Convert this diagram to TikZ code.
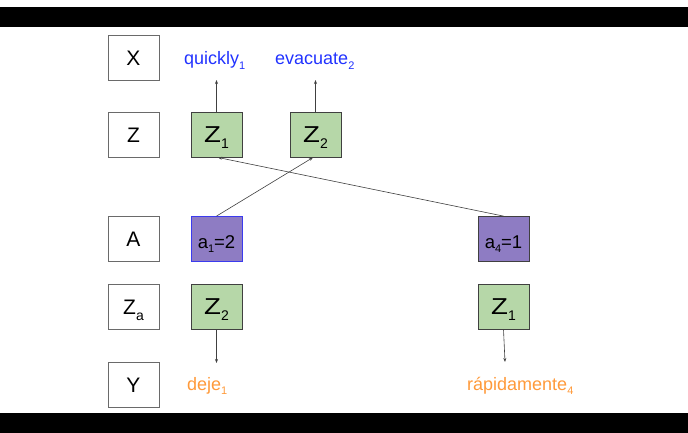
\documentclass[tikz,border=0pt]{standalone}
\usepackage{fontspec}
\setmainfont{Liberation Sans}
\usetikzlibrary{arrows.meta}

\definecolor{boxgreen}{HTML}{B6D7A8}
\definecolor{boxpurple}{HTML}{8E7CC3}
\definecolor{wordblue}{HTML}{2233FF}
\definecolor{wordorange}{HTML}{FF9A3A}
\definecolor{edgegray}{HTML}{404040}
\definecolor{framegray}{HTML}{6A6A6A}
\definecolor{selblue}{HTML}{3B3BEE}

% lowered index in running labels
\newcommand{\lowidx}[1]{\raisebox{-4.5pt}{\fontsize{11}{12}\selectfont #1}}
% lowered index inside the boxes
\newcommand{\boxidx}[1]{\raisebox{-6pt}{\fontsize{14}{15}\selectfont #1}}
% wide capital used in the latent boxes
\newcommand{\wideZ}{\scalebox{1.2}[1]{Z}}

\tikzset{
  cell/.style={draw, line width=0.8pt, minimum width=51pt, minimum height=45pt,
    inner sep=0pt, text height=15.5pt, text depth=0pt,
    font=\fontsize{21}{24}\selectfont},
  rowtag/.style={cell, draw=framegray, fill=white},
  zcell/.style={cell, draw=edgegray, fill=boxgreen, text height=16.5pt,
    font=\fontsize{23}{26}\selectfont},
  acell/.style={cell, draw=edgegray, fill=boxpurple, text height=18pt,
    font=\fontsize{18.5}{21}\selectfont},
  word/.style={anchor=base west, inner sep=0pt, font=\fontsize{18}{21}\selectfont},
  link/.style={draw=edgegray, line width=0.6pt,
    -{Stealth[length=4pt, width=3pt]}},
}

\begin{document}
\begin{tikzpicture}[x=1pt, y=-1pt]
  % page and black bands
  \fill[white] (0,0) rectangle (688,433);
  \fill[black] (0,7) rectangle (688,27.5);
  \fill[black] (0,413) rectangle (688,433);
  \useasboundingbox (0,0) rectangle (688,433);

  % row tags
  \node[rowtag] (tagX)  at (133.5,58)    {X};
  \node[rowtag] (tagZ)  at (133.5,134.5) {Z};
  \node[rowtag] (tagA)  at (133.5,239)   {A};
  \node[rowtag] (tagZa) at (133.5,306.5) {Z\boxidx{a}};
  \node[rowtag] (tagY)  at (133.5,384.5) {Y};

  % source words
  \node[word, text=wordblue] (quickly)  at (184,65) {quickly\lowidx{1}};
  \node[word, text=wordblue] (evacuate) at (275,65) {evacuate\lowidx{2}};

  % latent variables
  \node[zcell] (z1) at (216.5,134.5) {\wideZ\boxidx{1}};
  \node[zcell] (z2) at (315.5,134.5) {\wideZ\boxidx{2}};

  % alignments
  \node[acell, draw=selblue] (a1) at (216.5,239) {a\lowidx{1}=2};
  \node[acell] (a4) at (503.5,239) {a\lowidx{4}=1};

  % aligned latent variables
  \node[zcell] (za1) at (216.5,306.5) {\wideZ\boxidx{2}};
  \node[zcell] (za4) at (503.5,306.5) {\wideZ\boxidx{1}};

  % target words
  \node[word, text=wordorange] (deje)   at (187,390) {deje\lowidx{1}};
  \node[word, text=wordorange] (rapida) at (467,390) {rápidamente\lowidx{4}};

  % arrow end points
  \coordinate (qTip) at (216.5,80);
  \coordinate (eTip) at (315.5,80);
  \coordinate (z2In) at (313,157.5);
  \coordinate (z1In) at (218,157.5);
  \coordinate (dTip) at (216.5,363);
  \coordinate (rTip) at (505,362);

  % emissions
  \draw[link] (z1.north) -- (qTip);
  \draw[link] (z2.north) -- (eTip);
  \draw[link] (za1.south) -- (dTip);
  \draw[link] (za4.south) -- (rTip);

  % alignment links
  \draw[link] (a1.north) -- (z2In);
  \draw[link] (a4.north) -- (z1In);
\end{tikzpicture}
\end{document}
